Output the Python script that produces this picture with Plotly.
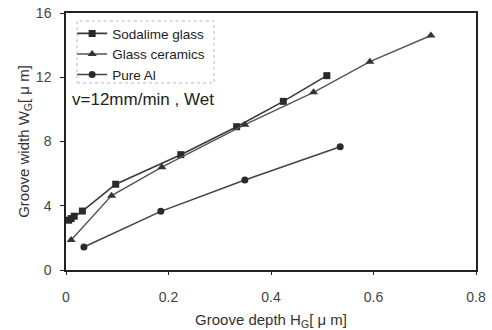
import plotly.graph_objects as go

soda_x = [0.005, 0.01, 0.016, 0.032, 0.097, 0.224, 0.333, 0.424, 0.509]
soda_y = [3.1, 3.2, 3.35, 3.67, 5.34, 7.18, 8.92, 10.5, 12.1]
cer_x = [0.01, 0.089, 0.187, 0.349, 0.483, 0.593, 0.712]
cer_y = [1.87, 4.63, 6.4, 9.05, 11.06, 12.97, 14.6]
al_x = [0.035, 0.185, 0.349, 0.535]
al_y = [1.43, 3.65, 5.6, 7.68]

names = ["Sodalime glass", "Glass ceramics", "Pure Al"]
x_ticks = [0, 0.2, 0.4, 0.6, 0.8]
y_ticks = [0, 4, 8, 12, 16]

FONT = "Liberation Sans, Arial, sans-serif"
fig = go.Figure()
fig.add_trace(go.Scatter(x=soda_x, y=soda_y, name=names[0], mode="lines+markers",
                         line=dict(color="#3a3a3a", width=1.6),
                         marker=dict(symbol="square", size=7, color="#2a2a2a")))
fig.add_trace(go.Scatter(x=cer_x, y=cer_y, name=names[1], mode="lines+markers",
                         line=dict(color="#555555", width=1.4),
                         marker=dict(symbol="triangle-up", size=8, color="#333333")))
fig.add_trace(go.Scatter(x=al_x, y=al_y, name=names[2], mode="lines+markers",
                         line=dict(color="#444444", width=1.6),
                         marker=dict(symbol="circle", size=7, color="#2a2a2a")))

fig.update_layout(
    width=492, height=330,
    margin=dict(l=66, r=16, t=13, b=60),
    paper_bgcolor="white", plot_bgcolor="white",
    font=dict(family=FONT, size=13, color="#333333"),
    showlegend=True,
    legend=dict(x=0.015, y=0.98, xanchor="left", yanchor="top",
                bgcolor="rgba(0,0,0,0)", borderwidth=0,
                font=dict(size=13.5, color="#222222"), itemwidth=30,
                tracegroupgap=0),
    shapes=[dict(type="rect", xref="paper", yref="paper",
                 x0=0.027, x1=0.361, y0=0.728, y1=0.969,
                 line=dict(color="#bbbbbb", width=1, dash="dot"))],
    annotations=[dict(text="v=12mm/min , Wet", xref="paper", yref="paper",
                      x=0.01, y=0.665, xanchor="left", yanchor="middle",
                      showarrow=False, font=dict(size=17, color="#222222"))],
)
fig.update_xaxes(range=[0, 0.8], tickvals=x_ticks, ticktext=[str(v) for v in x_ticks],
                 automargin=False,
                 showgrid=False, zeroline=False, showline=True, linecolor="#222222",
                 linewidth=1.5, mirror=True, ticks="outside", ticklen=3, tickcolor="#222222",
                 ticklabelstandoff=10,
                 tickfont=dict(size=14, color="#444444"),
                 title=dict(text="Groove depth H<sub>G</sub>[ μ m]", font=dict(size=15, color="#333333"),
                            standoff=12))
fig.update_yaxes(range=[0, 16], tickvals=y_ticks,
                 automargin=False,
                 showgrid=False, zeroline=False, showline=True, linecolor="#222222",
                 linewidth=1.5, mirror=True, ticks="outside", ticklen=4, tickcolor="#222222",
                 ticklabelstandoff=6,
                 tickfont=dict(size=14, color="#444444"),
                 title=dict(text="Groove width W<sub>G</sub>[ μ m]", font=dict(size=15, color="#333333"),
                            standoff=3))

fig.write_html("out.html")
